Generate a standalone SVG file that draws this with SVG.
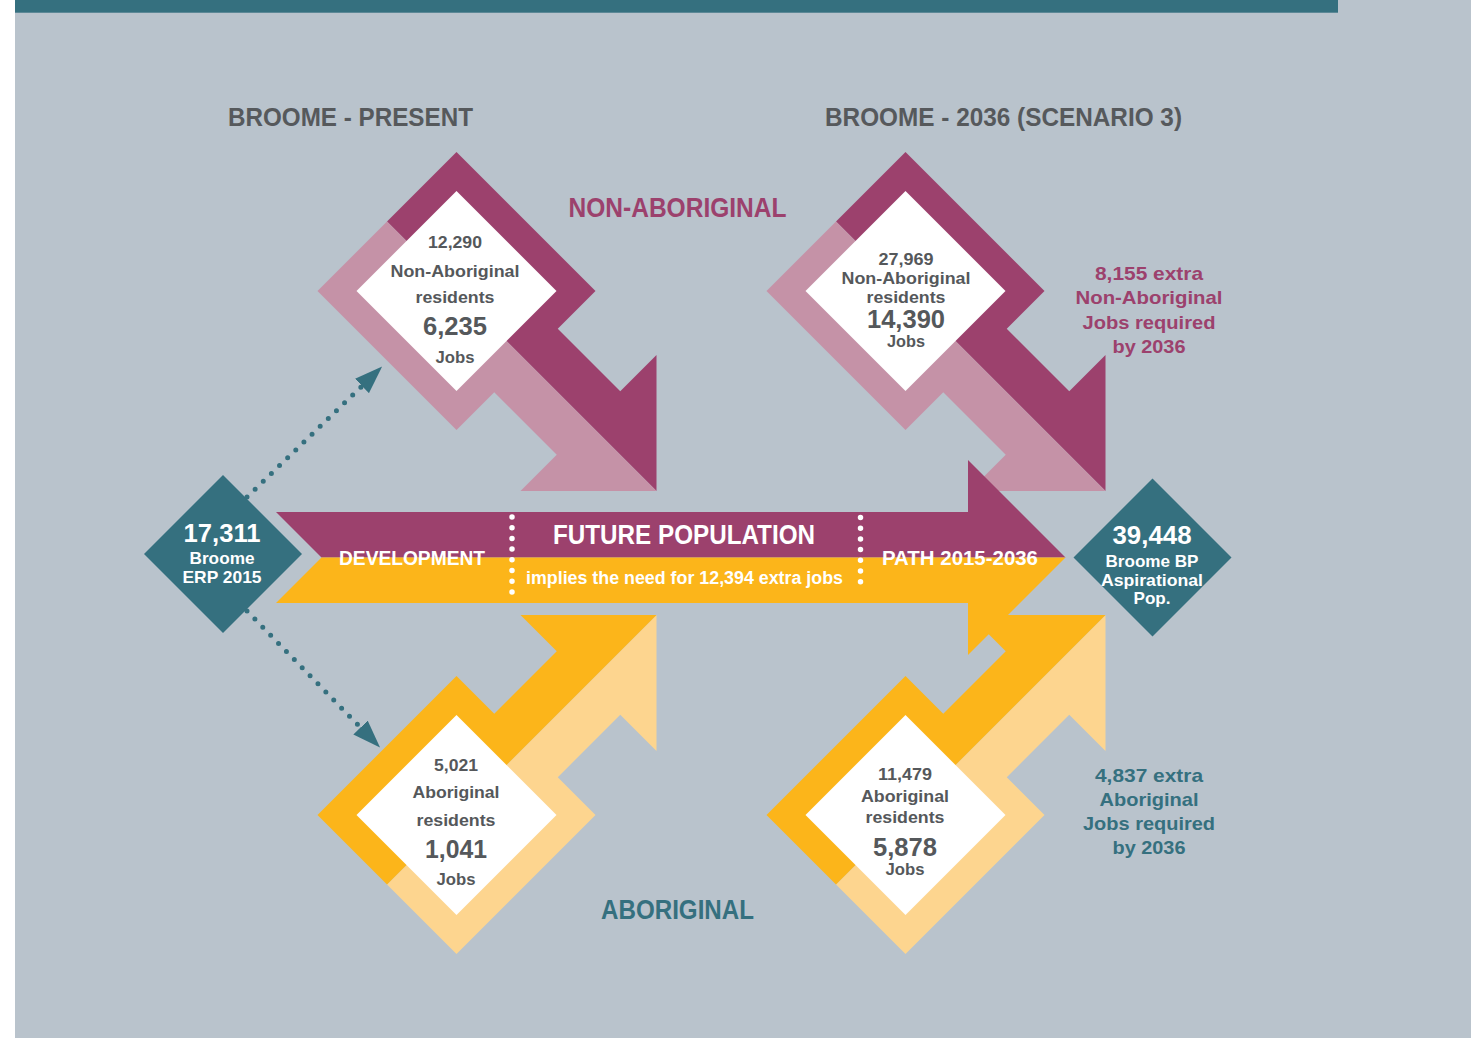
<svg xmlns="http://www.w3.org/2000/svg" xmlns:xlink="http://www.w3.org/1999/xlink" width="1471" height="1038" viewBox="0 0 1471 1038">
<style>
text{font-family:"Liberation Sans",Arial,sans-serif;font-weight:bold;text-anchor:middle}
.head{font-size:26px;fill:#56595c}
.in{font-size:17px;fill:#55585b}
.big{font-size:25px;fill:#55585b}
.wh{fill:#ffffff}
.mag{fill:#9c416d}
.teal{fill:#35707f}
.dots{fill:none;stroke:#35707f;stroke-width:5;stroke-linecap:round;stroke-dasharray:0 11.3}
.sep{fill:none;stroke:#ffffff;stroke-width:5.5;stroke-linecap:round;stroke-dasharray:0 10.7}
</style>
<defs>
<polygon id="halfA" points="-69.5,-69.5 0,-139 139,0 101.25,37.75 163.75,100.25 200,64 200,200"/>
<polygon id="halfB" points="-69.5,-69.5 -139,0 0,139 37.75,101.25 100.25,163.75 64,200 200,200"/>
<polygon id="inner" points="0,-100 100,0 0,100 -100,0" fill="#ffffff"/>
<marker id="ah" markerUnits="userSpaceOnUse" markerWidth="28" markerHeight="20" refX="0" refY="10" orient="auto">
<path d="M0,0 L28,10 L0,20 z" fill="#35707f"/>
</marker>
</defs>
<rect x="0" y="0" width="1471" height="1038" fill="#ffffff"/>
<rect x="15" y="0" width="1456" height="1038" fill="#b9c3cc"/>
<rect x="15" y="0" width="1323" height="12.7" fill="#35707f"/>

<text class="head" x="350.5" y="126" textLength="245" lengthAdjust="spacingAndGlyphs">BROOME - PRESENT</text>
<text class="head" x="1003.5" y="126" textLength="357" lengthAdjust="spacingAndGlyphs">BROOME - 2036 (SCENARIO 3)</text>
<text class="mag" x="677.5" y="217" font-size="27" textLength="218" lengthAdjust="spacingAndGlyphs">NON-ABORIGINAL</text>
<text class="teal" x="677.5" y="919" font-size="27" textLength="153" lengthAdjust="spacingAndGlyphs">ABORIGINAL</text>

<g id="present-nonaboriginal" transform="translate(456.5,291)">
<use xlink:href="#halfA" fill="#9c416d"/>
<use xlink:href="#halfB" fill="#c592a7"/>
<use xlink:href="#inner"/>
<text class="in" x="-1.5" y="-42.7" textLength="54" lengthAdjust="spacingAndGlyphs">12,290</text>
<text class="in" x="-1.5" y="-14.3" textLength="129" lengthAdjust="spacingAndGlyphs">Non-Aboriginal</text>
<text class="in" x="-1.5" y="12.3" textLength="79" lengthAdjust="spacingAndGlyphs">residents</text>
<text class="big" x="-1.5" y="44" textLength="64" lengthAdjust="spacingAndGlyphs">6,235</text>
<text class="in" x="-1.5" y="71.7" textLength="39" lengthAdjust="spacingAndGlyphs">Jobs</text>
</g>

<g id="future-nonaboriginal" transform="translate(905.5,291)">
<use xlink:href="#halfA" fill="#9c416d"/>
<use xlink:href="#halfB" fill="#c592a7"/>
<use xlink:href="#inner"/>
<text class="in" x="0.5" y="-26" textLength="55" lengthAdjust="spacingAndGlyphs">27,969</text>
<text class="in" x="0.5" y="-7" textLength="129" lengthAdjust="spacingAndGlyphs">Non-Aboriginal</text>
<text class="in" x="0.5" y="12.3" textLength="79" lengthAdjust="spacingAndGlyphs">residents</text>
<text class="big" x="0.5" y="37.3" textLength="78" lengthAdjust="spacingAndGlyphs">14,390</text>
<text class="in" x="0.5" y="55.7" textLength="38" lengthAdjust="spacingAndGlyphs">Jobs</text>
</g>

<g id="present-aboriginal">
<g transform="translate(456.5,815) scale(1,-1)">
<use xlink:href="#halfA" fill="#fdd58f"/>
<use xlink:href="#halfB" fill="#fcb51a"/>
<use xlink:href="#inner"/>
</g>
<text class="in" x="456" y="770.7" textLength="44" lengthAdjust="spacingAndGlyphs">5,021</text>
<text class="in" x="456" y="798.3" textLength="87" lengthAdjust="spacingAndGlyphs">Aboriginal</text>
<text class="in" x="456" y="826" textLength="79" lengthAdjust="spacingAndGlyphs">residents</text>
<text class="big" x="456" y="857.7" textLength="62" lengthAdjust="spacingAndGlyphs">1,041</text>
<text class="in" x="456" y="885" textLength="39" lengthAdjust="spacingAndGlyphs">Jobs</text>
</g>

<g id="future-aboriginal">
<g transform="translate(905.5,815) scale(1,-1)">
<use xlink:href="#halfA" fill="#fdd58f"/>
<use xlink:href="#halfB" fill="#fcb51a"/>
<use xlink:href="#inner"/>
</g>
<text class="in" x="905" y="780" textLength="54" lengthAdjust="spacingAndGlyphs">11,479</text>
<text class="in" x="905" y="801.7" textLength="88" lengthAdjust="spacingAndGlyphs">Aboriginal</text>
<text class="in" x="905" y="823.3" textLength="79" lengthAdjust="spacingAndGlyphs">residents</text>
<text class="big" x="905" y="856" textLength="64" lengthAdjust="spacingAndGlyphs">5,878</text>
<text class="in" x="905" y="875" textLength="39" lengthAdjust="spacingAndGlyphs">Jobs</text>
</g>

<g id="development-path">
<polygon points="276,512 968,512 968,460 1065.5,557.5 321.5,557.5" fill="#9c416d"/>
<polygon points="321.5,557.5 1065.5,557.5 968,655 968,603 276,603" fill="#fcb51a"/>
<line class="sep" x1="512" y1="517" x2="512" y2="592"/>
<line class="sep" x1="860.5" y1="517.5" x2="860.5" y2="592"/>
<text class="wh" x="684" y="544" font-size="27" textLength="262" lengthAdjust="spacingAndGlyphs">FUTURE POPULATION</text>
<text class="wh" x="412" y="565" font-size="20" textLength="146" lengthAdjust="spacingAndGlyphs">DEVELOPMENT</text>
<text class="wh" x="960" y="565" font-size="20" textLength="156" lengthAdjust="spacingAndGlyphs">PATH 2015-2036</text>
<text class="wh" x="684.5" y="584" font-size="17.5" textLength="317" lengthAdjust="spacingAndGlyphs">implies the need for 12,394 extra jobs</text>
</g>

<g id="broome-erp-2015">
<polygon points="223,475 302,554 223,633 144,554" fill="#35707f"/>
<text class="wh" x="222" y="541.7" font-size="26" textLength="77" lengthAdjust="spacingAndGlyphs">17,311</text>
<text class="wh" x="222" y="564" font-size="17" textLength="65" lengthAdjust="spacingAndGlyphs">Broome</text>
<text class="wh" x="222" y="583" font-size="17" textLength="79" lengthAdjust="spacingAndGlyphs">ERP 2015</text>
</g>

<g id="broome-bp-aspirational">
<polygon points="1152.5,478.5 1231.5,557.5 1152.5,636.5 1073.5,557.5" fill="#35707f"/>
<text class="wh" x="1152" y="544" font-size="26" textLength="79" lengthAdjust="spacingAndGlyphs">39,448</text>
<text class="wh" x="1152" y="566.7" font-size="17" textLength="93" lengthAdjust="spacingAndGlyphs">Broome BP</text>
<text class="wh" x="1152" y="586" font-size="17" textLength="102" lengthAdjust="spacingAndGlyphs">Aspirational</text>
<text class="wh" x="1152" y="604" font-size="17" textLength="37" lengthAdjust="spacingAndGlyphs">Pop.</text>
</g>

<g id="extra-nonaboriginal-jobs">
<text class="mag" x="1149" y="280" font-size="19" textLength="108" lengthAdjust="spacingAndGlyphs">8,155 extra</text>
<text class="mag" x="1149" y="304.3" font-size="19" textLength="147" lengthAdjust="spacingAndGlyphs">Non-Aboriginal</text>
<text class="mag" x="1149" y="329" font-size="19" textLength="133" lengthAdjust="spacingAndGlyphs">Jobs required</text>
<text class="mag" x="1149" y="353.3" font-size="19" textLength="73" lengthAdjust="spacingAndGlyphs">by 2036</text>
</g>

<g id="extra-aboriginal-jobs">
<text class="teal" x="1149" y="781.7" font-size="19" textLength="108" lengthAdjust="spacingAndGlyphs">4,837 extra</text>
<text class="teal" x="1149" y="806" font-size="19" textLength="99" lengthAdjust="spacingAndGlyphs">Aboriginal</text>
<text class="teal" x="1149" y="830" font-size="19" textLength="132" lengthAdjust="spacingAndGlyphs">Jobs required</text>
<text class="teal" x="1149" y="854.3" font-size="19" textLength="73" lengthAdjust="spacingAndGlyphs">by 2036</text>
</g>

<g id="connectors">
<line class="dots" x1="247" y1="497" x2="362" y2="386" marker-end="url(#ah)"/>
<line class="dots" x1="247" y1="611" x2="360.5" y2="727.5" marker-end="url(#ah)"/>
</g>
</svg>
